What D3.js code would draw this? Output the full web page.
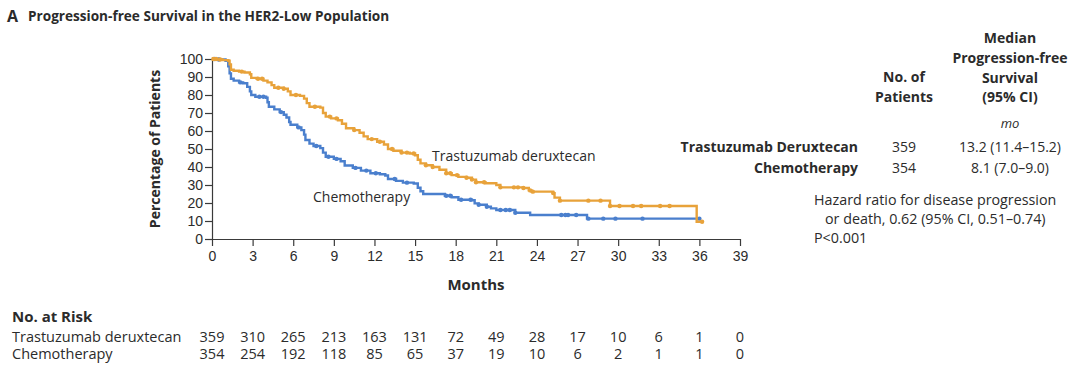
<!DOCTYPE html>
<html>
<head>
<meta charset="utf-8">
<script src="https://cdn.jsdelivr.net/npm/d3@7"></script>
<style>
  body { margin: 0; background: #fff; }
  svg { display: block; font-family: "Open Sans", "Noto Sans", sans-serif; }
  .axis text { font-size: 14px; fill: #2b2b2b; }
  .axis path, .axis line { stroke: #3a3a3a; stroke-width: 1.2; }
</style>
</head>
<body>
<svg id="chart" width="1080" height="375"></svg>
<script>
// months shown on the x axis and in the at-risk table
const monthTicks = [0, 3, 6, 9, 12, 15, 18, 21, 24, 27, 30, 33, 36, 39]
const pctTicks = [0, 10, 20, 30, 40, 50, 60, 70, 80, 90, 100]

// Kaplan-Meier steps: [month, % progression-free]
const tdxdSteps = [
  [0, 100], [0.4, 99.7], [0.8, 99.4], [1.2, 99], [1.3, 97], [1.4, 94], [1.6, 93.5], [2.0, 93],
  [2.4, 92.5], [2.8, 91.5], [2.9, 89.5], [3.3, 89], [3.8, 88], [4.1, 87], [4.4, 85.5], [4.6, 84],
  [5.3, 83.5], [5.6, 82], [5.8, 80], [6.5, 79.5], [6.8, 78], [7.0, 75.5], [7.2, 73.5], [8.0, 73],
  [8.2, 70], [8.4, 68], [8.8, 67], [9.3, 66], [9.6, 64], [9.9, 61.5], [10.5, 60.5], [10.9, 59],
  [11.2, 57], [11.5, 55.5], [12.2, 54], [12.7, 52.5], [13.0, 50], [13.4, 49], [14.0, 48],
  [14.6, 47.5], [15.0, 46.5], [15.2, 44], [15.4, 42], [15.8, 41], [16.3, 40], [16.8, 38.5],
  [17.3, 36.5], [17.7, 35.5], [18.2, 34.5], [18.8, 34], [19.2, 33], [19.5, 31.5], [20.2, 31],
  [21.0, 30], [21.3, 28.7], [23.0, 28.3], [23.4, 27], [23.6, 26.3], [25.2, 25.5], [25.3, 23],
  [25.7, 21.3], [29.4, 18.3], [35.8, 9.6], [36.2, 9.6]
]
const chemoSteps = [
  [0, 100], [0.5, 99.7], [1.0, 99], [1.2, 96], [1.3, 92], [1.4, 89], [1.6, 88], [2.0, 87],
  [2.3, 86.5], [2.6, 84.5], [2.8, 82], [2.9, 80], [3.2, 79], [4.0, 78.5], [4.1, 76], [4.2, 73.5],
  [4.6, 72], [5.0, 70.5], [5.3, 69], [5.5, 67.5], [5.7, 65], [5.8, 63.5], [6.3, 62], [6.6, 60.5],
  [6.8, 58], [6.9, 55], [7.2, 53], [7.5, 51.7], [8.0, 50.5], [8.2, 48], [8.4, 45.7], [9.0, 44.5],
  [9.5, 43.2], [9.8, 40.8], [10.4, 39.5], [11.0, 38], [11.7, 36.5], [12.4, 36], [12.8, 35.3],
  [13.0, 33.3], [13.6, 32.3], [14.1, 31.3], [14.9, 30.8], [15.2, 28.5], [15.4, 26.5], [15.6, 25],
  [17.2, 24], [17.7, 23.2], [18.2, 21.8], [19.2, 21.5], [19.4, 19.8], [19.7, 19], [20.3, 17.9],
  [20.6, 17], [21.0, 16.1], [22.4, 14.6], [23.5, 13.3], [27.7, 11.3], [36.0, 11.3]
]

// censoring times (months)
const tdxdCensor = [0.1, 0.3, 0.6, 2.2, 3.4, 3.7, 4.9, 5.3, 6.2, 7.6, 8.7, 9.2, 10.5, 11.8, 12.4,
  13.3, 14.0, 14.4, 14.9, 15.8, 16.3, 17.3, 17.6, 18.1, 18.8, 19.2, 19.5, 20.1, 21.3, 22.3, 22.6,
  23.0, 23.5, 23.7, 25.2, 25.7, 27.8, 28.7, 29.4, 30.1, 31.1, 31.7, 33.1, 33.8, 36.2]
const chemoCensor = [0.2, 0.5, 2.1, 3.5, 3.8, 5.1, 6.4, 7.7, 8.6, 9.2, 10.6, 11.4, 12.1, 13.5,
  14.4, 17.3, 17.6, 18.4, 19.1, 19.7, 20.3, 21.3, 21.7, 22.0, 22.4, 25.8, 26.1, 26.3, 26.9, 27.8,
  28.9, 29.8, 31.8, 36.0]

const atRiskLabels = ["Trastuzumab deruxtecan", "Chemotherapy"]
const atRiskTdxd = [359, 310, 265, 213, 163, 131, 72, 49, 28, 17, 10, 6, 1, 0]
const atRiskChemo = [354, 254, 192, 118, 85, 65, 37, 19, 10, 6, 2, 1, 1, 0]

const groupNames = ["Trastuzumab Deruxtecan", "Chemotherapy"]
const groupPatients = ["359", "354"]
const groupMedians = ["13.2 (11.4\u201315.2)", "8.1 (7.0\u20139.0)"]

const ORANGE = "#e8a23a"
const BLUE = "#4a7fcd"
const INK = "#2b2b2b"

const svg = d3.select("#chart")

const x = d3.scaleLinear().domain([0, 39]).range([212, 740])
const y = d3.scaleLinear().domain([0, 100]).range([239, 59])

// title
svg.append("text").attr("x", 7).attr("y", 22)
  .attr("font-size", 16).attr("font-weight", 700).attr("fill", INK).text("A")
svg.append("text").attr("x", 28).attr("y", 21)
  .attr("font-size", 13.6).attr("font-weight", 700).attr("fill", INK)
  .text("Progression-free Survival in the HER2-Low Population")

// axes
svg.append("g").attr("class", "axis")
  .attr("transform", `translate(0,${y(0)})`)
  .call(d3.axisBottom(x).tickValues(monthTicks).tickSize(7).tickSizeOuter(0).tickPadding(5))
svg.append("g").attr("class", "axis")
  .attr("transform", `translate(${x(0)},0)`)
  .call(d3.axisLeft(y).tickValues(pctTicks).tickSize(7).tickSizeOuter(0).tickPadding(2))

svg.append("text")
  .attr("transform", `translate(160,${(y(0) + y(100)) / 2}) rotate(-90)`)
  .attr("text-anchor", "middle").attr("font-size", 14).attr("font-weight", 700).attr("fill", INK)
  .text("Percentage of Patients")
svg.append("text").attr("x", (x(0) + x(39)) / 2).attr("y", 290)
  .attr("text-anchor", "middle").attr("font-size", 15).attr("font-weight", 700).attr("fill", INK)
  .text("Months")

// curves
const line = d3.line().x(d => x(d[0])).y(d => y(d[1])).curve(d3.curveStepAfter)
const valueAt = (steps, t) => {
  const i = d3.bisector(d => d[0]).right(steps, t) - 1
  return steps[Math.max(0, i)][1]
}

const series = [
  { steps: chemoSteps, censor: chemoCensor, color: BLUE },
  { steps: tdxdSteps, censor: tdxdCensor, color: ORANGE }
]
series.forEach(s => {
  svg.append("path").datum(s.steps)
    .attr("fill", "none").attr("stroke", s.color).attr("stroke-width", 2.4)
    .attr("d", line)
  svg.append("g").selectAll("circle").data(s.censor).join("circle")
    .attr("cx", t => x(t)).attr("cy", t => y(valueAt(s.steps, t)))
    .attr("r", 2.2).attr("fill", s.color)
})

svg.append("text").attr("x", 432).attr("y", 161)
  .attr("font-size", 14).attr("fill", INK).text("Trastuzumab deruxtecan")
svg.append("text").attr("x", 313).attr("y", 202)
  .attr("font-size", 14).attr("fill", INK).text("Chemotherapy")

// legend table
const colPat = 904, colMed = 1010
const hdr = svg.append("g").attr("font-size", 14).attr("font-weight", 700).attr("fill", INK)
  .attr("text-anchor", "middle")
;[["No. of", 82], ["Patients", 102]].forEach(([t, yy]) =>
  hdr.append("text").attr("x", colPat).attr("y", yy).text(t))
;[["Median", 43], ["Progression-free", 63], ["Survival", 83], ["(95% CI)", 102]].forEach(([t, yy]) =>
  hdr.append("text").attr("x", colMed).attr("y", yy).text(t))
svg.append("text").attr("x", colMed).attr("y", 128).attr("text-anchor", "middle")
  .attr("font-size", 13).attr("font-style", "italic").attr("fill", INK).text("mo")

groupNames.forEach((g, i) => {
  const yy = 152 + i * 21
  svg.append("text").attr("x", 858).attr("y", yy).attr("text-anchor", "end")
    .attr("font-size", 14).attr("font-weight", 700).attr("fill", INK).text(g)
  svg.append("text").attr("x", colPat).attr("y", yy).attr("text-anchor", "middle")
    .attr("font-size", 14).attr("fill", INK).text(groupPatients[i])
  svg.append("text").attr("x", colMed).attr("y", yy).attr("text-anchor", "middle")
    .attr("font-size", 14).attr("fill", INK).text(groupMedians[i])
})

svg.append("text").attr("x", 814).attr("y", 205).attr("font-size", 14.3).attr("fill", INK)
  .text("Hazard ratio for disease progression")
svg.append("text").attr("x", 825).attr("y", 224).attr("font-size", 14.3).attr("fill", INK)
  .text("or death, 0.62 (95% CI, 0.51\u20130.74)")
svg.append("text").attr("x", 814).attr("y", 243).attr("font-size", 14.3).attr("fill", INK)
  .text("P<0.001")

// number at risk
svg.append("text").attr("x", 12).attr("y", 322)
  .attr("font-size", 15).attr("font-weight", 700).attr("fill", INK).text("No. at Risk")
;[atRiskTdxd, atRiskChemo].forEach((row, i) => {
  const yy = 342 + i * 17
  svg.append("text").attr("x", 12).attr("y", yy)
    .attr("font-size", 14.5).attr("fill", INK).text(atRiskLabels[i])
  svg.append("g").selectAll("text").data(row).join("text")
    .attr("x", (d, j) => x(monthTicks[j])).attr("y", yy)
    .attr("text-anchor", "middle").attr("font-size", 14.5).attr("fill", INK)
    .text(d => d)
})
</script>
</body>
</html>
